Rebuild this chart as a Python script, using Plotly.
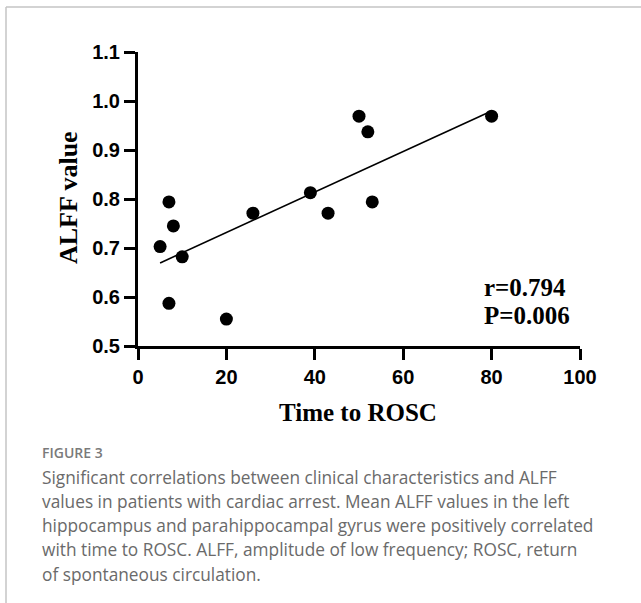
import numpy as np
import plotly.graph_objects as go

# Data
time_to_rosc = [7, 8, 5, 10, 26, 39, 7, 20, 50, 52, 80, 53, 43]
alff_value = [0.794, 0.745, 0.703, 0.682, 0.771, 0.813, 0.587, 0.555, 0.969, 0.937, 0.969, 0.794, 0.771]
x_ticks = [0, 20, 40, 60, 80, 100]
y_ticks = [0.5, 0.6, 0.7, 0.8, 0.9, 1.0, 1.1]
stats_text = ["r=0.794", "P=0.006"]
caption_title = "FIGURE 3"
caption_lines = [
    "Significant correlations between clinical characteristics and ALFF",
    "values in patients with cardiac arrest. Mean ALFF values in the left",
    "hippocampus and parahippocampal gyrus were positively correlated",
    "with time to ROSC. ALFF, amplitude of low frequency; ROSC, return",
    "of spontaneous circulation.",
]

W, H = 641, 603
L, R, T, B = 138, 61, 52, 257
PW, PH = W - L - R, H - T - B


def px(xp):
    return (xp - L) / PW


def py(yp):
    return (H - B - yp) / PH


slope, intercept = np.polyfit(time_to_rosc, alff_value, 1)
fit_x = [min(time_to_rosc), max(time_to_rosc)]
fit_y = [slope * v + intercept for v in fit_x]

fig = go.Figure()
fig.add_trace(go.Scatter(x=fit_x, y=fit_y, mode="lines",
                         line=dict(color="black", width=1.6), showlegend=False,
                         cliponaxis=False))
fig.add_trace(go.Scatter(x=time_to_rosc, y=alff_value, mode="markers",
                         marker=dict(color="black", size=13), showlegend=False,
                         cliponaxis=False))

tick_font = dict(family="Liberation Sans, Arial", size=20, color="black", weight="bold")
fig.update_xaxes(range=[0, 100], tickvals=x_ticks, ticktext=[str(v) for v in x_ticks],
                 showline=True, linewidth=3, linecolor="black", ticks="outside",
                 ticklen=11, tickwidth=3, tickcolor="black", showgrid=False,
                 zeroline=False, tickfont=tick_font)
fig.update_yaxes(range=[0.5, 1.1], tickvals=y_ticks, ticktext=[f"{v:.1f}" for v in y_ticks],
                 showline=True, linewidth=3, linecolor="black", ticks="outside",
                 ticklen=11, tickwidth=3, tickcolor="black", showgrid=False,
                 zeroline=False, tickfont=tick_font)

serif_bold = dict(family="Liberation Serif, Times New Roman", color="black", weight="bold")
annotations = [
    dict(text="ALFF value", xref="paper", yref="paper", x=px(68), y=py(198),
         textangle=-90, showarrow=False, xanchor="center", yanchor="middle",
         font=dict(size=26, **serif_bold)),
    dict(text="Time to ROSC", xref="paper", yref="paper", x=px(358), y=py(412),
         showarrow=False, xanchor="center", yanchor="middle",
         font=dict(size=25, **serif_bold)),
]
for i, t in enumerate(stats_text):
    annotations.append(dict(text=t, xref="paper", yref="paper", x=px(482), y=py(287 + 28 * i),
                            showarrow=False, xanchor="left", yanchor="middle",
                            font=dict(size=25, **serif_bold)))
annotations.append(dict(text=caption_title, xref="paper", yref="paper", x=px(40), y=py(452),
                        showarrow=False, xanchor="left", yanchor="middle",
                        font=dict(family="Open Sans", size=14, color="#7a7a7a", weight=600)))
for i, line in enumerate(caption_lines):
    annotations.append(dict(text=line, xref="paper", yref="paper", x=px(40), y=py(477 + 24.3 * i),
                            showarrow=False, xanchor="left", yanchor="middle",
                            font=dict(family="Open Sans", size=17.3, color="#6a6a6a")))

shapes = [
    dict(type="line", xref="paper", yref="paper", x0=px(6), x1=px(641), y0=py(7), y1=py(7),
         line=dict(color="#c4c4c4", width=1.5)),
    dict(type="line", xref="paper", yref="paper", x0=px(6), x1=px(6), y0=py(7), y1=py(603),
         line=dict(color="#c4c4c4", width=1.5)),
]

fig.update_layout(width=W, height=H, margin=dict(l=L, r=R, t=T, b=B),
                  paper_bgcolor="white", plot_bgcolor="white",
                  annotations=annotations, shapes=shapes)

fig.write_html("out.html", config={"displayModeBar": False},
               post_script="document.body.style.margin='0px';")
